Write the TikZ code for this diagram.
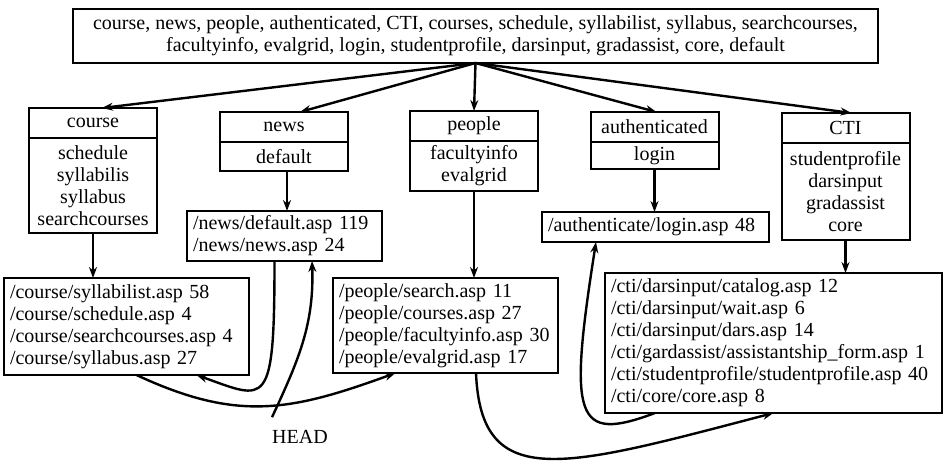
\documentclass[tikz,border=0pt]{standalone}
\usepackage{fontspec}
\setmainfont{Liberation Serif}
\usetikzlibrary{arrows.meta,positioning}
\pgfdeclarelayer{bg}
\pgfsetlayers{bg,main}
\tikzset{
        box/.style={draw, line width=2pt, inner sep=0pt, outer sep=0pt, align=center,
                font=\fontsize{20}{22}\selectfont},
        head/.style={box, minimum width=128pt, minimum height=30pt},
        body/.style={box, minimum width=128pt, below=0pt of #1},
        files/.style={box, align=left, inner xsep=6pt},
        link/.style={line width=2.4pt, -{Stealth[length=11pt,width=8pt]}},
}

\begin{document}
\begin{tikzpicture}[x=1pt,y=1pt]
        \useasboundingbox (0,0) rectangle (944,-465);
        \node (top) [box, minimum width=805pt, minimum height=54pt] at (475.5,-36) {course, news, people, authenticated, CTI, courses, schedule, syllabilist, syllabus, searchcourses,\\facultyinfo, evalgrid, login, studentprofile, darsinput, gradassist, core, default};
        \node (course) [head] at (93,-123) {course};
        \node (coursesub) [body=course, minimum height=95pt] {schedule\\syllabilis\\syllabus\\searchcourses};
        \node (news) [head] at (284,-127) {news};
        \node (newssub) [body=news, minimum height=29pt] {default};
        \node (people) [head] at (474,-126) {people};
        \node (peoplesub) [body=people, minimum height=50pt] {facultyinfo\\evalgrid};
        \node (auth) [head] at (654.5,-127) {authenticated};
        \node (authsub) [body=auth, minimum height=27pt] {login};
        \node (cti) [head] at (845.5,-128) {CTI};
        \node (ctisub) [body=cti, minimum height=97pt] {studentprofile\\darsinput\\gradassist\\core};
        \node (coursefiles) [files, text width=233pt, minimum height=97pt] at (126.5,-326.5) {/course/syllabilist.asp 58\\/course/schedule.asp 4\\/course/searchcourses.asp 4\\/course/syllabus.asp 27};
        \node (newsfiles) [files, text width=183pt, minimum height=50pt] at (284.5,-236) {/news/default.asp 119\\/news/news.asp 24};
        \node (peoplefiles) [files, text width=213pt, minimum height=95pt] at (445.5,-325.5) {/people/search.asp 11\\/people/courses.asp 27\\/people/facultyinfo.asp~30\\/people/evalgrid.asp 17};
        \node (authfiles) [files, text width=215pt, minimum height=30pt] at (655.5,-227) {/authenticate/login.asp 48};
        \node (ctifiles) [files, text width=325pt, minimum height=140pt] at (773.5,-343) {/cti/darsinput/catalog.asp 12\\/cti/darsinput/wait.asp 6\\/cti/darsinput/dars.asp 14\\/cti/gardassist/assistantship\_form.asp 1\\/cti/studentprofile/studentprofile.asp 40\\/cti/core/core.asp 8};
        \node (headreq) [inner xsep=0pt, inner ysep=13pt, font=\fontsize{20}{22}\selectfont] at (300,-437) {HEAD};
        \begin{pgfonlayer}{bg}
                \draw (top.south) edge [link] ([xshift=9pt]course.north);
                \draw (top.south) edge [link] ([xshift=16pt]news.north);
                \draw (top.south) edge [link] (people.north);
                \draw (top.south) edge [link] ([xshift=2pt]auth.north);
                \draw (top.south) edge [link] ([xshift=6pt]cti.north);
                \draw (coursesub.south) edge [link] (coursesub.south |- coursefiles.north);
                \draw ([xshift=3pt]newssub.south) edge [link] ([xshift=3pt]newssub.south |- newsfiles.north);
                \draw (peoplesub.south) edge [link] (peoplesub.south |- peoplefiles.north);
                \draw (authsub.south) edge [link] (authsub.south |- authfiles.north);
                \draw (ctisub.south) edge [link] (ctisub.south |- ctifiles.north);
        \end{pgfonlayer}
        \draw [link] ([xshift=10pt]coursefiles.south) to [out=-25, in=-160, looseness=1.1] ([xshift=-50pt]peoplefiles.south);
        \draw [link] ([xshift=-10pt]newsfiles.south) .. controls +(0,-150) and +(70,-25) .. ([xshift=70pt]coursefiles.south);
        \draw [link] (headreq.north west) to [out=65, in=-88] ([xshift=27.5pt]newsfiles.south);
        \draw [link] ([xshift=30.5pt]peoplefiles.south) .. controls +(5,-120) and +(-210,-55) .. (ctifiles.south);
        \draw [link] ([xshift=-118.5pt]ctifiles.south) .. controls +(-80,-30) and +(-28,-178) .. ([xshift=-59.5pt]authfiles.south);
\end{tikzpicture}
\end{document}
